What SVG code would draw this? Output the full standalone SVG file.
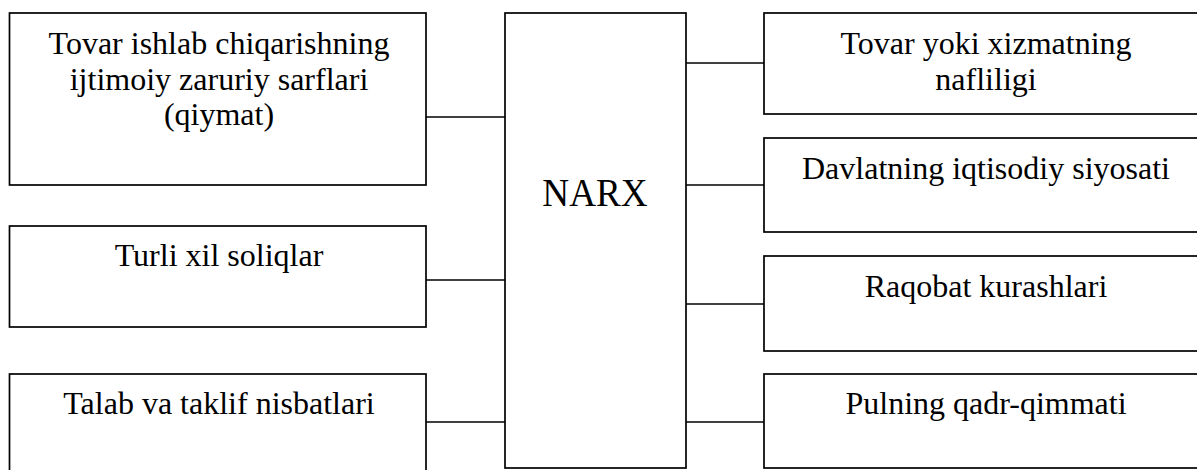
<svg xmlns="http://www.w3.org/2000/svg" width="1197" height="470" viewBox="0 0 1197 470">
<style>
.box{fill:#fff;stroke:#000;stroke-width:1.7}
.ln{stroke:#000;stroke-width:1.7;fill:none}
.t{font-family:"Liberation Serif","Times New Roman",serif;font-size:32px;fill:#000;text-anchor:middle}
.big{font-size:40px}
</style>
<rect width="1197" height="470" fill="#fff"/>
<g id="connectors">
<line class="ln" x1="426" y1="117" x2="505" y2="117"/>
<line class="ln" x1="426" y1="280" x2="505" y2="280"/>
<line class="ln" x1="426" y1="422" x2="505" y2="422"/>
<line class="ln" x1="686" y1="63" x2="764" y2="63"/>
<line class="ln" x1="686" y1="185" x2="764" y2="185"/>
<line class="ln" x1="686" y1="304" x2="764" y2="304"/>
<line class="ln" x1="686" y1="422" x2="764" y2="422"/>
</g>
<g id="narx">
<rect class="box" x="505" y="13" width="181" height="455"/>
<text class="t big" transform="translate(595,206) scale(0.93,1)">NARX</text>
</g>
<g id="qiymat">
<rect class="box" x="9.5" y="13" width="416.5" height="172"/>
<text class="t" x="219" y="54">Tovar ishlab chiqarishning</text>
<text class="t" x="219" y="89.5">ijtimoiy zaruriy sarflari</text>
<text class="t" x="219" y="125">(qiymat)</text>
</g>
<g id="soliqlar">
<rect class="box" x="9.5" y="226" width="416.5" height="101"/>
<text class="t" x="219" y="266">Turli xil soliqlar</text>
</g>
<g id="talab">
<rect class="box" x="9.5" y="374" width="416.5" height="110"/>
<text class="t" x="219" y="414">Talab va taklif nisbatlari</text>
</g>
<g id="naflilik">
<rect class="box" x="764" y="13" width="450" height="101"/>
<text class="t" x="986" y="54">Tovar yoki xizmatning</text>
<text class="t" x="986" y="89.5">nafliligi</text>
</g>
<g id="siyosat">
<rect class="box" x="764" y="138" width="450" height="94"/>
<text class="t" x="986" y="179">Davlatning iqtisodiy siyosati</text>
</g>
<g id="raqobat">
<rect class="box" x="764" y="256" width="450" height="95"/>
<text class="t" x="986" y="297">Raqobat kurashlari</text>
</g>
<g id="pul">
<rect class="box" x="764" y="374" width="450" height="94"/>
<text class="t" x="986" y="414">Pulning qadr-qimmati</text>
</g>
</svg>
